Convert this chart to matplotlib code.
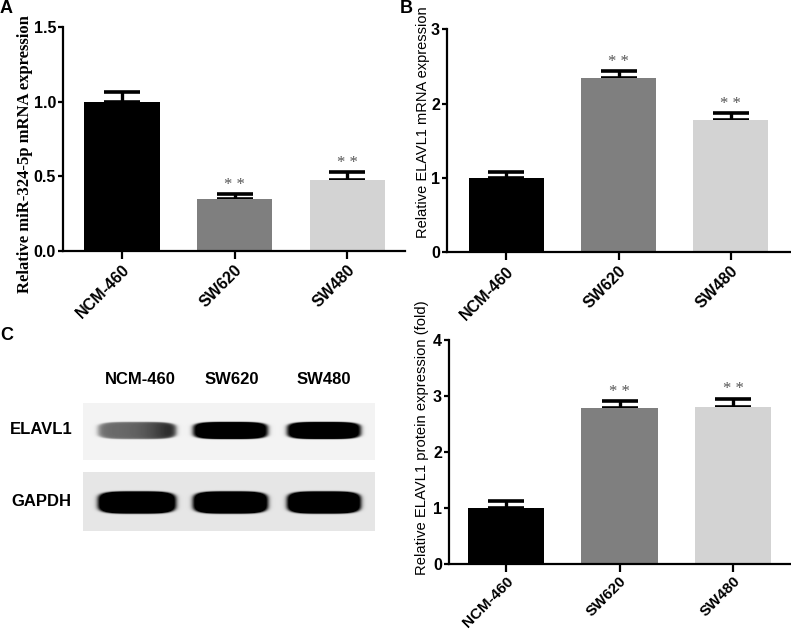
import numpy as np
import matplotlib
matplotlib.use("Agg")
import matplotlib.pyplot as plt

# ---------------------------
# data
# ---------------------------
grupos = ["NCM-460", "SW620", "SW480"]
cores = ["#000000", "#7f7f7f", "#d3d3d3"]

mir_media = [1.00, 0.345, 0.478]
mir_erro = [0.065, 0.037, 0.048]

elavl1_mrna_media = [1.00, 2.34, 1.78]
elavl1_mrna_erro = [0.08, 0.10, 0.09]

elavl1_prot_media = [1.00, 2.78, 2.81]
elavl1_prot_erro = [0.12, 0.13, 0.14]

# western blot band intensities (0 = none, 1 = saturated)
blot_linhas = ["ELAVL1", "GAPDH"]
blot_intens = [[0.55, 0.92, 0.92], [1.0, 1.0, 1.0]]

sans = "Liberation Sans"
serif = "Liberation Serif"
W, H = 791, 629


def fx(px):
    return px / W


def fy(py):
    return 1 - py / H


def painel(ax, medias, erros, ylim, yticks, xlim, xfs=11.5, xpad=2):
    x = np.arange(len(grupos))
    ax.bar(x, medias, width=0.67, color=cores, zorder=2)
    ax.errorbar(x, medias, yerr=[[0] * 3, erros], fmt="none", ecolor="black",
                elinewidth=2.4, capsize=13, capthick=2.6, zorder=1)
    for xi, m, e in zip(x, medias, erros):
        if xi == 0:
            continue
        ax.annotate("* *", (xi, m + e), xytext=(0, 1), textcoords="offset points",
                    ha="center", va="bottom", fontsize=12, color="#555555",
                    family=serif)
    ax.set_xlim(*xlim)
    ax.set_ylim(*ylim)
    ax.set_yticks(yticks)
    ax.set_xticks(x)
    ax.set_xticklabels(grupos, rotation=45, ha="right", rotation_mode="anchor",
                       fontsize=xfs, fontweight="bold", family=sans)
    ax.spines["top"].set_visible(False)
    ax.spines["right"].set_visible(False)
    ax.spines["left"].set_linewidth(1.6)
    ax.spines["bottom"].set_linewidth(1.6)
    ax.tick_params(axis="x", direction="out", length=6, width=1.6, pad=xpad)
    ax.tick_params(axis="y", direction="out", length=3.5, width=1.6, pad=1.5)


def ticks_y(ax, labels=None):
    if labels is not None:
        ax.set_yticklabels(labels)
    for lab in ax.get_yticklabels():
        lab.set_fontsize(11.5)
        lab.set_fontweight("bold")
        lab.set_family(sans)


fig = plt.figure(figsize=(W / 100, H / 100), dpi=100)

# A
axA = fig.add_axes([fx(63), fy(251), fx(405 - 63), fy(27) - fy(251)])
painel(axA, mir_media, mir_erro, (0, 1.5), [0, 0.5, 1.0, 1.5], (-0.52, 2.51))
ticks_y(axA, ["0.0", "0.5", "1.0", "1.5"])
fig.text(fx(25), fy(154), "Relative miR-324-5p mRNA expression", rotation=90,
         ha="center", va="center", fontsize=12, fontweight="bold", family=serif)

# B
axB = fig.add_axes([fx(447), fy(252.3), fx(790 - 447), fy(29.3) - fy(252.3)])
painel(axB, elavl1_mrna_media, elavl1_mrna_erro, (0, 3), [0, 1, 2, 3], (-0.53, 2.53))
ticks_y(axB)
fig.text(fx(423), fy(122), "Relative ELAVL1 mRNA expression", rotation=90,
         ha="center", va="center", fontsize=10.5, family=sans)

# C (grafico de proteina)
axD = fig.add_axes([fx(449), fy(564.3), fx(790 - 449), fy(340) - fy(564.3)])
painel(axD, elavl1_prot_media, elavl1_prot_erro, (0, 4), [0, 1, 2, 3, 4], (-0.50, 2.50),
       xfs=11, xpad=1)
ticks_y(axD)
fig.text(fx(422), fy(438), "Relative ELAVL1 protein expression (fold)", rotation=90,
         ha="center", va="center", fontsize=10.6, family=sans)

# ---------------------------
# western blot
# ---------------------------
lanes = [(98, 175), (193, 267), (287, 360)]  # px dentro da figura


def faixa(nx, ny, x0_img, intens, yc, hh, fundo, gradiente=False):
    xx, yy = np.meshgrid(np.arange(nx), np.arange(ny))
    img = np.full((ny, nx), fundo)
    for (a, b), it in zip(lanes, intens):
        a -= x0_img
        b -= x0_img
        cx, hw = (a + b) / 2, (b - a) / 2
        r = (np.abs(xx - cx) / hw) ** 4 + (np.abs(yy - yc) / hh) ** 4
        forma = 1 / (1 + np.exp((r - 1) / 0.18))
        amp = it
        if gradiente and it < 0.7:
            amp = it * (0.75 + 0.5 * np.clip((xx - a) / (b - a), 0, 1) ** 3)
        img = img + np.clip(amp, 0, 1) * forma * 1.3
    return np.clip(img, 0, 1)


x0, x1 = 83, 375
axb1 = fig.add_axes([fx(x0), fy(460), fx(x1 - x0), fy(403) - fy(460)])
img1 = faixa(x1 - x0, 57, x0, blot_intens[0], 27, 8.5, 0.05, gradiente=True)
axb1.imshow(img1, cmap="gray_r", vmin=0, vmax=1, aspect="auto",
            interpolation="bilinear")
axb1.axis("off")

axb2 = fig.add_axes([fx(x0), fy(531), fx(x1 - x0), fy(472) - fy(531)])
img2 = faixa(x1 - x0, 59, x0, blot_intens[1], 30, 11, 0.10)
axb2.imshow(img2, cmap="gray_r", vmin=0, vmax=1, aspect="auto",
            interpolation="bilinear")
axb2.axis("off")

for g, xc in zip(grupos, [140, 232, 324]):
    fig.text(fx(xc), fy(379), g, ha="center", va="center", fontsize=12,
             fontweight="bold", family=sans)
for lab, yc in zip(blot_linhas, [429, 502]):
    fig.text(fx(41), fy(yc), lab, ha="center", va="center", fontsize=12,
             fontweight="bold", family=sans)

# letras dos paineis
fig.text(fx(0), fy(0), "A", ha="left", va="top", fontsize=13, fontweight="bold", family=sans)
fig.text(fx(400), fy(0), "B", ha="left", va="top", fontsize=13, fontweight="bold", family=sans)
fig.text(fx(0), fy(327), "C", ha="left", va="top", fontsize=13, fontweight="bold", family=sans)

fig.savefig("out.png", dpi=100)
